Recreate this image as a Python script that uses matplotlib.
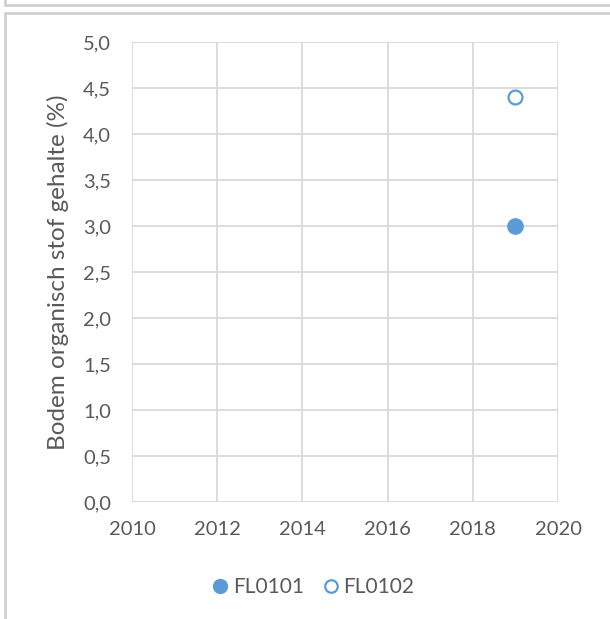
import numpy as np
import matplotlib.pyplot as plt
from matplotlib.lines import Line2D
from matplotlib.patches import Rectangle

plt.rcParams['font.family'] = ['Lato', 'DejaVu Sans']

# data
years_fl0101 = [2019]
values_fl0101 = [3.0]
years_fl0102 = [2019]
values_fl0102 = [4.4]
series_names = ["FL0101", "FL0102"]

x_ticks = [2010, 2012, 2014, 2016, 2018, 2020]
y_ticks = [0.0, 0.5, 1.0, 1.5, 2.0, 2.5, 3.0, 3.5, 4.0, 4.5, 5.0]

blue = "#5B9BD5"
grid_col = "#D9D9D9"
text_col = "#595959"

fig = plt.figure(figsize=(6.10, 6.19), dpi=100)
ax = fig.add_axes([132 / 610, 1 - 502 / 619, 426 / 610, 460 / 619])

ax.plot(years_fl0101, values_fl0101, 'o', color=blue, markersize=11,
        label=series_names[0], zorder=3)
ax.plot(years_fl0102, values_fl0102, 'o', markerfacecolor="white",
        markeredgecolor=blue, markeredgewidth=1.6, markersize=10,
        label=series_names[1], zorder=3)

ax.set_xlim(2010, 2020)
ax.set_ylim(0, 5)
ax.set_xticks(x_ticks)
ax.set_yticks(y_ticks)
ax.set_yticklabels([f"{v:.1f}".replace(".", ",") for v in y_ticks])
ax.grid(True, color=grid_col, linewidth=1.3)
ax.set_axisbelow(True)
for s in ax.spines.values():
    s.set_visible(False)
ax.tick_params(length=0, labelsize=14.5, colors=text_col)
ax.tick_params(axis='y', pad=15)
ax.tick_params(axis='x', pad=14)

ax.set_ylabel("Bodem organisch stof gehalte (%)", fontsize=17.5,
              color=text_col, labelpad=10)

handles = [
    Line2D([], [], linestyle='none', marker='o', color=blue, markersize=10),
    Line2D([], [], linestyle='none', marker='o', markerfacecolor="white",
           markeredgecolor=blue, markeredgewidth=1.6, markersize=9),
]
fig.legend(handles, series_names, loc='center', bbox_to_anchor=(0.51, 0.052),
           ncol=2, frameon=False, fontsize=15, handletextpad=0.0,
           handlelength=1.2, columnspacing=0.7, labelcolor=text_col)

# chart frame
fig.add_artist(Rectangle((5 / 610, -0.1), 1.0, 1 - 13 / 619 + 0.1,
                         transform=fig.transFigure, fill=False,
                         edgecolor="#D0D0D0", linewidth=2))
fig.add_artist(Line2D([5 / 610, 1.0], [1 - 5 / 619, 1 - 5 / 619],
                      transform=fig.transFigure, color="#D0D0D0", linewidth=2))
fig.add_artist(Line2D([5 / 610, 5 / 610], [1 - 5 / 619, 1.0],
                      transform=fig.transFigure, color="#D0D0D0", linewidth=2))

fig.savefig("out.png", dpi=100)
